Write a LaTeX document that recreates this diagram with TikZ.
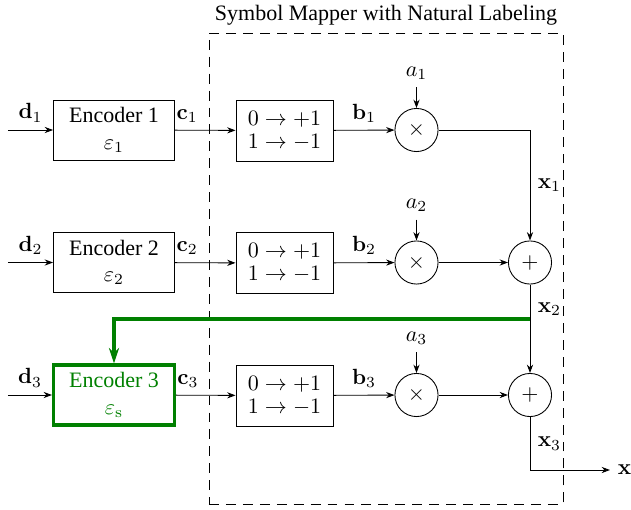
\documentclass[tikz,border=0pt]{standalone}
\usepackage{amsmath,amssymb}
\usepackage[no-math]{fontspec}
\setmainfont{Liberation Serif}
\usepackage{xcolor}
\usetikzlibrary{arrows.meta,positioning}
\definecolor{encgreen}{RGB}{0,128,0}

\begin{document}
\begin{tikzpicture}[>={Stealth[length=3.8pt,width=2.8pt]},x=0.4545pt,y=-0.4545pt,
enc/.style={draw,minimum width=55pt,minimum height=27.3pt,align=center,inner sep=1pt},
mapbox/.style={draw,minimum width=44.1pt,minimum height=27.7pt,align=center,inner sep=1pt},
op/.style={draw,circle,minimum size=19.6pt,inner sep=0pt},
greenline/.style={draw=encgreen,line width=1.4pt}]
\useasboundingbox (0,0) rectangle (631,510);
\node[draw,dash pattern=on 4.5pt off 3.2pt,minimum width=160.9pt,minimum height=214.1pt](mapper) at (386,268.5){};
\node[above](title) at (mapper.north){Symbol Mapper with Natural Labeling};
\coordinate(din1) at (8,130);
\coordinate(din2) at (8,262.5);
\coordinate(din3) at (8,395);
\node[enc](enc1) at (114,130){Encoder 1\\ $\varepsilon_1$};
\node[enc](enc2) at (114,262.5){Encoder 2\\ $\varepsilon_2$};
\node[enc,draw=encgreen,line width=1.4pt,text=encgreen](enc3) at (114,395){Encoder 3\\ $\varepsilon_{\mathrm{s}}$};
\node[mapbox](map1) at (284.5,130.5){$0\rightarrow+1$\\[-1.5pt] $1\rightarrow-1$};
\node[mapbox](map2) at (284.5,263){$0\rightarrow+1$\\[-1.5pt] $1\rightarrow-1$};
\node[mapbox](map3) at (284.5,395.5){$0\rightarrow+1$\\[-1.5pt] $1\rightarrow-1$};
\node[op](mul1) at (416.5,130){$\times$};
\node[op](mul2) at (416.5,262.5){$\times$};
\node[op](mul3) at (416.5,395){$\times$};
\node(a1) at (416.5,73){$a_1$};
\node(a2) at (416.5,205.5){$a_2$};
\node(a3) at (416.5,338){$a_3$};
\node[op](add2) at (530,262.5){$+$};
\node[op](add3) at (530,395){$+$};
\coordinate(tap) at (530,319);
\coordinate(xout) at (610,470);
\draw[->](din1)--(enc1)node[midway,above]{$\mathbf{d}_1$};
\draw[->](din2)--(enc2)node[midway,above]{$\mathbf{d}_2$};
\draw[->](din3)--(enc3)node[midway,above]{$\mathbf{d}_3$};
\draw[->](enc1)--(map1)node[pos=0.2,above]{$\mathbf{c}_1$};
\draw[->](enc2)--(map2)node[pos=0.2,above]{$\mathbf{c}_2$};
\draw[->](enc3)--(map3)node[pos=0.2,above]{$\mathbf{c}_3$};
\draw[->](map1)--(mul1)node[midway,above]{$\mathbf{b}_1$};
\draw[->](map2)--(mul2)node[midway,above]{$\mathbf{b}_2$};
\draw[->](map3)--(mul3)node[midway,above]{$\mathbf{b}_3$};
\draw[->](a1)--(mul1);
\draw[->](a2)--(mul2);
\draw[->](a3)--(mul3);
\draw[->](mul1)-|node[pos=0.75,right]{$\mathbf{x}_1$}(add2);
\draw[->](mul2)--(add2);
\draw[->](mul3)--(add3);
\draw[->](add2)--node[pos=0.28,right]{$\mathbf{x}_2$}(add3);
\draw[->](add3)|-node[pos=0.25,right]{$\mathbf{x}_3$}(xout)node[right]{$\mathbf{x}$};
\draw[greenline,-{Stealth[length=7pt,width=4.6pt]}](tap)-|(enc3.north);
\end{tikzpicture}
\end{document}
